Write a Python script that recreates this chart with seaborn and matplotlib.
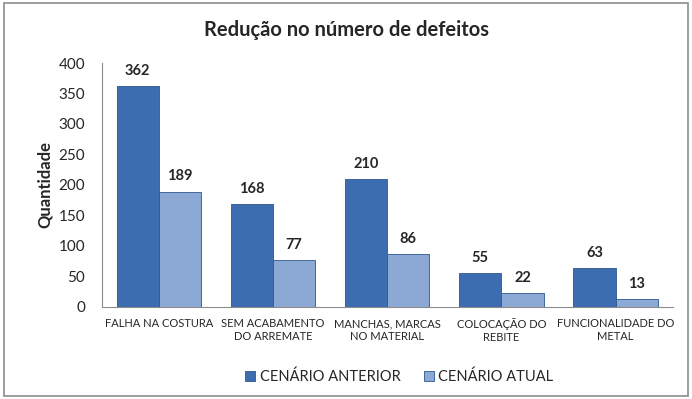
import pandas as pd
import seaborn as sns
import matplotlib.pyplot as plt
from matplotlib.patches import Rectangle

# Dados do gráfico
categorias = ['FALHA NA COSTURA', 'SEM ACABAMENTO\nDO ARREMATE', 'MANCHAS, MARCAS\nNO MATERIAL',
              'COLOCAÇÃO DO\nREBITE', 'FUNCIONALIDADE DO\nMETAL']
cenario_anterior = [362, 168, 210, 55, 63]
cenario_atual = [189, 77, 86, 22, 13]
series = ['CENÁRIO ANTERIOR', 'CENÁRIO ATUAL']
y_ticks = [0, 50, 100, 150, 200, 250, 300, 350, 400]

df = pd.DataFrame({
    'categoria': categorias * 2,
    'cenario': [series[0]] * len(categorias) + [series[1]] * len(categorias),
    'valor': cenario_anterior + cenario_atual,
})

sns.set_style('white')
plt.rcParams['font.family'] = ['Lato', 'DejaVu Sans']

fig = plt.figure(figsize=(6.92, 3.99), dpi=100)
ax = fig.add_axes([0.147, 0.231, 0.825, 0.611])

cores = ['#3b6db0', '#8ca8d4']
sns.barplot(data=df, x='categoria', y='valor', hue='cenario', palette=cores, saturation=1,
            width=0.74, edgecolor='#2d5690', linewidth=0.6, ax=ax, legend=True)

for cont in ax.containers:
    ax.bar_label(cont, padding=6, fontsize=10.5, fontweight='bold')

ax.set_ylim(0, 400)
ax.set_yticks(y_ticks)
ax.tick_params(axis='y', labelsize=11, length=0, pad=12)
ax.tick_params(axis='x', labelsize=8, length=0, pad=8)
ax.set_xlabel('')
ax.set_ylabel('Quantidade', fontsize=12, fontweight='bold', labelpad=4)
for s in ['top', 'right']:
    ax.spines[s].set_visible(False)
for s in ['left', 'bottom']:
    ax.spines[s].set_color('#8c8c8c')
    ax.spines[s].set_linewidth(0.8)

fig.suptitle('Redução no número de defeitos', fontsize=14.5, fontweight='bold', x=0.5, y=0.95)

ax.legend(loc='center', bbox_to_anchor=(0.577, 0.055), bbox_transform=fig.transFigure,
          ncol=2, frameon=False, fontsize=10.5, handlelength=0.7, handleheight=0.7,
          handletextpad=0.3, columnspacing=1.6)

# moldura do gráfico
fig.patches.append(Rectangle((0.006, 0.008), 0.988, 0.984, transform=fig.transFigure,
                             fill=False, edgecolor='#8c8c8c', linewidth=1.2))

fig.savefig('out.png', dpi=100)
